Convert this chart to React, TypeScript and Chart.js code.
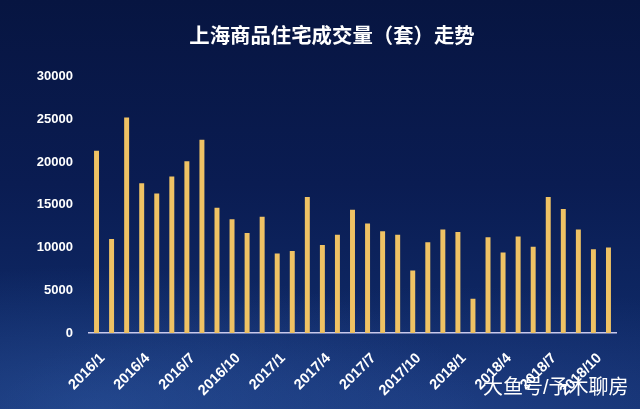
import React, { useEffect, useRef } from "react";
import { Chart, registerables } from "chart.js";

Chart.register(...registerables);

const months: string[] = [
  "2016/1", "2016/2", "2016/3", "2016/4", "2016/5", "2016/6", "2016/7", "2016/8", "2016/9", "2016/10", "2016/11", "2016/12",
  "2017/1", "2017/2", "2017/3", "2017/4", "2017/5", "2017/6", "2017/7", "2017/8", "2017/9", "2017/10", "2017/11", "2017/12",
  "2018/1", "2018/2", "2018/3", "2018/4", "2018/5", "2018/6", "2018/7", "2018/8", "2018/9", "2018/10", "2018/11",
];

const volumes: number[] = [
  21300, 11000, 25200, 17500, 16300, 18300, 20100, 22600, 14650, 13300, 11700, 13600,
  9300, 9600, 15900, 10300, 11500, 14400, 12800, 11900, 11500, 7300, 10600, 12100,
  11800, 4000, 11200, 9400, 11300, 10100, 15900, 14500, 12100, 9800, 10000,
];

const yTicks: number[] = [0, 5000, 10000, 15000, 20000, 25000, 30000];

const titleText = "上海商品住宅成交量（套）走势";
const watermarkText = "大鱼号/予木聊房";

const FONT = "'Liberation Sans', 'Noto Sans CJK SC', Arial, sans-serif";

// draws the x-axis month labels (every 3rd month), rotated 45°, at the scale's tick positions
const rotatedXLabels = {
  id: "rotatedXLabels",
  afterDraw(chart: any) {
    const xs = chart.scales.x;
    const ctx = chart.ctx;
    ctx.save();
    ctx.font = `bold 14.5px ${FONT}`;
    ctx.fillStyle = "#ffffff";
    ctx.textAlign = "right";
    ctx.textBaseline = "middle";
    months.forEach((m, i) => {
      if (i % 3 !== 0) return;
      const x = xs.getPixelForTick(i);
      ctx.save();
      ctx.translate(x + 6, xs.top + 23);
      ctx.rotate(-Math.PI / 4);
      ctx.fillText(m, 0, 0);
      ctx.restore();
    });
    ctx.restore();
  },
};

export default function App() {
  const canvasRef = useRef<HTMLCanvasElement | null>(null);

  useEffect(() => {
    document.body.style.margin = "0";
    const canvas = canvasRef.current;
    if (!canvas) return;
    const chart = new Chart(canvas, {
      type: "bar",
      data: {
        labels: months,
        datasets: [
          {
            data: volumes,
            backgroundColor: "#efc264",
            borderWidth: 0,
            barPercentage: 0.66,
            categoryPercentage: 0.5,
          },
        ],
      },
      plugins: [rotatedXLabels],
      options: {
        animation: false,
        responsive: false,
        maintainAspectRatio: false,
        layout: { padding: { left: 37, right: 13, top: 0, bottom: 76 } },
        plugins: {
          legend: { display: false },
          tooltip: { enabled: false },
          title: {
            display: true,
            text: titleText,
            color: "#ffffff",
            font: { family: FONT, size: 20.4, weight: "bold" },
            padding: { top: 25, bottom: 27 },
          },
        },
        scales: {
          x: {
            grid: { display: false, drawTicks: false },
            border: { display: true, color: "#c9c9ec", width: 1.5 },
            ticks: { display: false },
          },
          y: {
            min: 0,
            max: 30000,
            afterBuildTicks: (axis: any) => {
              axis.ticks = yTicks.map((v) => ({ value: v }));
            },
            afterFit: (axis: any) => {
              axis.width = 52;
            },
            grid: { display: false, drawTicks: false },
            border: { display: false },
            ticks: {
              padding: 16,
              color: "#ffffff",
              font: { family: FONT, size: 13, weight: "bold" },
              callback: (v: any) => String(v),
            },
          },
          yRight: {
            position: "right",
            min: 0,
            max: 30000,
            grid: { display: false, drawTicks: false },
            border: { display: false },
            ticks: { display: false },
            afterFit: (axis: any) => {
              axis.width = 11;
            },
          },
        },
      },
    });
    return () => chart.destroy();
  }, []);

  return (
    <div
      style={{
        position: "relative",
        width: 640,
        height: 409,
        overflow: "hidden",
        background:
          "radial-gradient(ellipse 60% 35% at 15% 100%, rgba(60,110,190,0.35), rgba(60,110,190,0) 100%), radial-gradient(ellipse 70% 30% at 70% 100%, rgba(50,90,170,0.3), rgba(50,90,170,0) 100%), linear-gradient(180deg, #071541 0%, #0a1c52 45%, #0e2763 75%, #143070 100%)",
      }}
    >
      <canvas ref={canvasRef} width={640} height={409} style={{ display: "block" }} />
      <div
        style={{
          position: "absolute",
          left: 483,
          top: 374,
          color: "#ffffff",
          fontFamily: FONT,
          fontSize: 20,
          lineHeight: "26px",
          whiteSpace: "nowrap",
        }}
      >
        {watermarkText}
      </div>
    </div>
  );
}
